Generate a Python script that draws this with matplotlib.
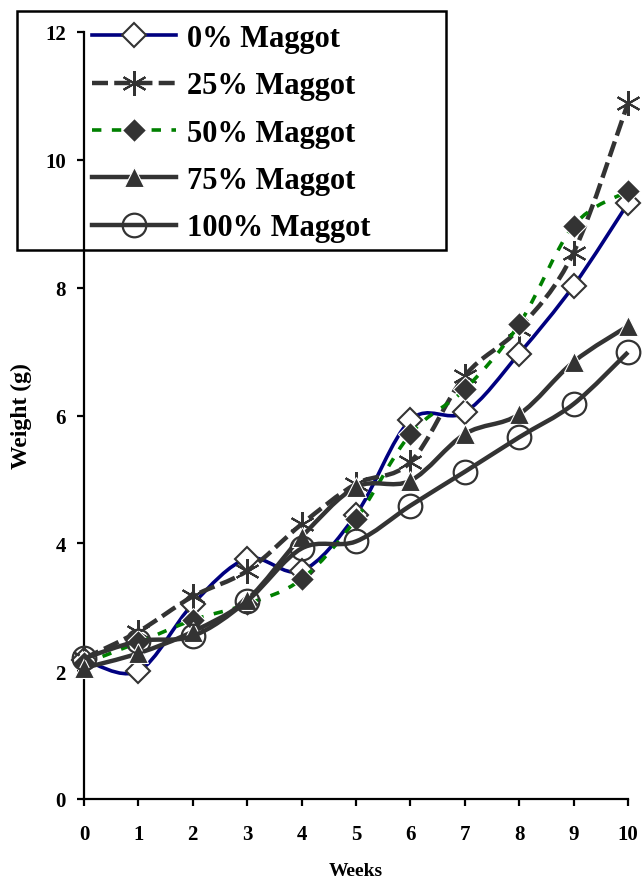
import numpy as np
import matplotlib
matplotlib.use("Agg")
from matplotlib import pyplot as plt
from matplotlib.path import Path
from matplotlib.patches import PathPatch, Rectangle
from matplotlib.lines import Line2D

plt.rcParams['font.family'] = ['Liberation Serif', 'DejaVu Serif']
plt.rcParams['font.weight'] = 'bold'

# data
weeks = [0, 1, 2, 3, 4, 5, 6, 7, 8, 9, 10]
m0 = [2.18, 2.00, 3.05, 3.76, 3.57, 4.45, 5.93, 6.05, 6.97, 8.03, 9.32]
m25 = [2.20, 2.62, 3.17, 3.57, 4.30, 4.93, 5.27, 6.62, 7.36, 8.55, 10.89]
m50 = [2.12, 2.45, 2.80, 3.05, 3.44, 4.38, 5.71, 6.41, 7.43, 8.97, 9.51]
m75 = [2.05, 2.28, 2.62, 3.12, 4.10, 4.88, 4.98, 5.71, 6.02, 6.84, 7.40]
m100 = [2.20, 2.47, 2.55, 3.10, 3.92, 4.03, 4.59, 5.12, 5.66, 6.18, 6.99]
labels = ['0% Maggot', '25% Maggot', '50% Maggot', '75% Maggot', '100% Maggot']

W, H = 643, 879
fig = plt.figure(figsize=(W / 100, H / 100), dpi=100)
ax = fig.add_axes([84 / W, 1 - 800 / H, (628 - 84) / W, (800 - 33) / H])


def smooth_path(x, y):
    # excel style smoothed line: cubic bezier through the points
    pts = np.column_stack([x, y]).astype(float)
    n = len(pts)
    verts = [pts[0]]
    codes = [Path.MOVETO]
    for i in range(n - 1):
        p0 = pts[i - 1] if i > 0 else pts[i]
        p1 = pts[i]
        p2 = pts[i + 1]
        p3 = pts[i + 2] if i + 2 < n else pts[i + 1]
        verts += [p1 + (p2 - p0) / 6, p2 - (p3 - p1) / 6, p2]
        codes += [Path.CURVE4] * 3
    return Path(verts, codes)


dark = '#333333'
styles = [
    dict(color='#000080', lw=2.6, ls='-', marker='D', ms=12, mfc='white', mec=dark, mew=1.5),
    dict(color=dark, lw=3.2, ls=(0, (3.6, 1.4)), marker=(6, 2, 0), ms=18, mfc=dark, mec=dark, mew=1.5),
    dict(color='#008000', lw=2.6, ls=(0, (2.6, 2.9)), marker='D', ms=12, mfc=dark, mec='white', mew=0.8),
    dict(color=dark, lw=3.2, ls='-', marker='^', ms=14, mfc=dark, mec='white', mew=0.8),
    dict(color=dark, lw=3.2, ls='-', marker='o', ms=17, mfc='none', mec=dark, mew=1.6),
]
series = [m0, m25, m50, m75, m100]

handles = []
for i, (vals, st) in enumerate(zip(series, styles)):
    patch = PathPatch(smooth_path(weeks, vals), fill=False, edgecolor=st['color'],
                      lw=st['lw'], linestyle=st['ls'], zorder=3 + i, clip_on=False,
                      capstyle='butt', joinstyle='round')
    ax.add_patch(patch)
    ax.plot(weeks, vals, ls='none', marker=st['marker'], ms=st['ms'], mfc=st['mfc'],
            mec=st['mec'], mew=st['mew'], zorder=3 + i, clip_on=False)
    handles.append(Line2D([], [], color=st['color'], lw=st['lw'], ls=st['ls'],
                          marker=st['marker'], ms=st['ms'], mfc=st['mfc'],
                          mec=st['mec'], mew=st['mew']))

ax.set_xlim(0, 10)
ax.set_ylim(0, 12)
ax.set_xticks(range(0, 11))
ax.set_yticks(range(0, 13, 2))
for s in ['top', 'right']:
    ax.spines[s].set_visible(False)
for s in ['left', 'bottom']:
    ax.spines[s].set_linewidth(1.6)
ax.tick_params(axis='both', direction='out', length=5, width=1.6, labelsize=15)
ax.tick_params(axis='x', pad=13)
ax.tick_params(axis='y', pad=8)
for t in ax.get_xticklabels() + ax.get_yticklabels():
    t.set_fontweight('bold')

# axis titles placed by hand in pixel terms
fig.text(356 / W, 1 - 876 / H, 'Weeks', fontsize=14, fontweight='bold',
         ha='center', va='baseline')
fig.text(21 / W, 1 - 416 / H, 'Weight (g)', fontsize=17, fontweight='bold',
         ha='center', va='center', rotation=90)

fig.patches.append(Rectangle((17 / W, 1 - 251 / H), 429 / W, 239 / H, fill=False,
                             edgecolor='black', lw=1.8, transform=fig.transFigure,
                             zorder=20))
leg = fig.legend(handles, labels, loc='upper left', bbox_to_anchor=(92 / W, 1 - 25 / H),
                 frameon=False, borderpad=0, borderaxespad=0, handlelength=2.75,
                 handletextpad=0.35, labelspacing=0.6,
                 prop=dict(family='Liberation Serif', weight='bold', size=22))

fig.savefig('out.png', dpi=100)
